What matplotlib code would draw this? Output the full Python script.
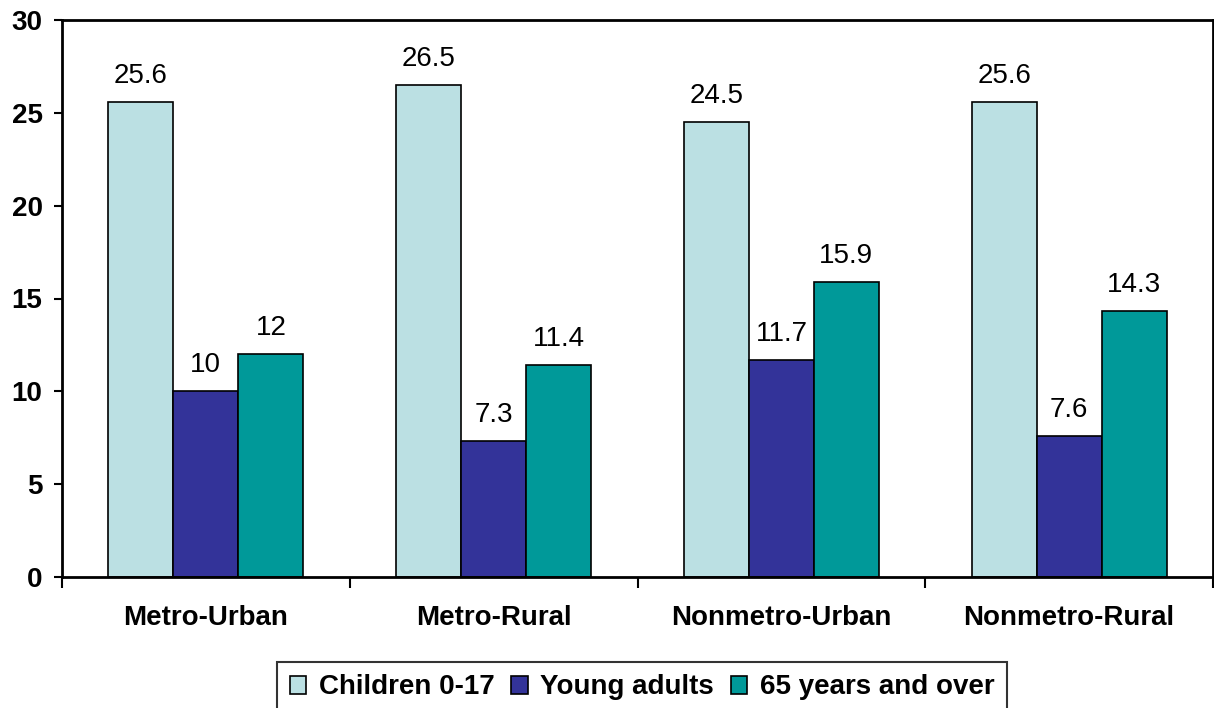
import numpy as np
import matplotlib.pyplot as plt

plt.rcParams['font.family'] = ['Liberation Sans', 'DejaVu Sans']

categories = ['Metro-Urban', 'Metro-Rural', 'Nonmetro-Urban', 'Nonmetro-Rural']
series = ['Children 0-17', 'Young adults', '65 years and over']
children = [25.6, 26.5, 24.5, 25.6]
young = [10, 7.3, 11.7, 7.6]
older = [12, 11.4, 15.9, 14.3]
labels = [['25.6', '26.5', '24.5', '25.6'],
          ['10', '7.3', '11.7', '7.6'],
          ['12', '11.4', '15.9', '14.3']]
colors = ['#BBE0E3', '#333399', '#009999']

fig = plt.figure(figsize=(12.14, 7.08), dpi=100)
ax = fig.add_axes([62/1214, 1-577/708, 1151/1214, 557/708])

x = np.arange(len(categories))
w = 0.226
for i, (vals, c, name) in enumerate(zip([children, young, older], colors, series)):
    bars = ax.bar(x + (i-1)*w, vals, w, color=c, edgecolor='black', linewidth=1.2, label=name)
    for b, t in zip(bars, labels[i]):
        ax.text(b.get_x() + b.get_width()/2, b.get_height() + 0.7, t,
                ha='center', va='bottom', fontsize=20)

ax.set_xlim(-0.5, 3.5)
ax.set_ylim(0, 30)
ax.set_yticks(range(0, 31, 5))
ax.set_yticklabels([str(v) for v in range(0, 31, 5)], fontsize=20, fontweight='bold')
ax.set_xticks(np.arange(-0.5, 4, 1))
ax.set_xticklabels([])
ax.set_xticks(x, minor=True)
ax.set_xticklabels(categories, minor=True, fontsize=20, fontweight='bold')
ax.tick_params(axis='x', which='major', length=8, width=1.5, direction='out')
ax.tick_params(axis='x', which='minor', length=0, pad=20)
ax.tick_params(axis='y', length=6, width=1.5, pad=8)
for s in ax.spines.values():
    s.set_linewidth(2)

leg = fig.legend(loc='upper center', bbox_to_anchor=(642/1214, 1-662/708), ncol=3,
                 prop={'size': 20, 'weight': 'bold'}, frameon=True, fancybox=False,
                 edgecolor='black', handlelength=0.6, handleheight=0.6,
                 handletextpad=0.45, columnspacing=0.6, borderpad=0.45, borderaxespad=0)
leg.get_frame().set_linewidth(1.5)

fig.savefig('out.png', dpi=100)
